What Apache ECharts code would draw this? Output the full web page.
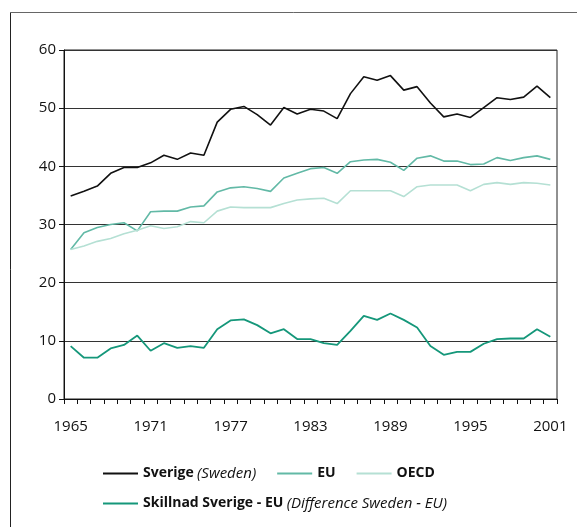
<!DOCTYPE html>
<html><head><meta charset="utf-8">
<script src="https://cdn.jsdelivr.net/npm/echarts@6/dist/echarts.min.js"></script>
<style>html,body{margin:0;padding:0;background:#fff}#c{width:577px;height:527px}</style>
</head><body><div id="c"></div>
<script>
const years = [];
for (let y = 1965; y <= 2001; y++) years.push(String(y));
const yTicks = [0, 10, 20, 30, 40, 50, 60];
const sweden = [34.9,35.7,36.6,38.8,39.8,39.8,40.6,41.9,41.2,42.3,41.9,47.6,49.8,50.3,48.9,47.1,50.1,49.0,49.8,49.5,48.2,52.5,55.4,54.8,55.6,53.1,53.7,50.9,48.5,49.0,48.4,50.1,51.8,51.5,51.9,53.8,51.8];
const eu = [25.7,28.6,29.5,30.0,30.3,28.9,32.2,32.3,32.3,33.0,33.2,35.6,36.3,36.5,36.2,35.7,38.0,38.8,39.6,39.8,38.8,40.8,41.1,41.2,40.7,39.3,41.4,41.8,40.9,40.9,40.3,40.4,41.5,41.0,41.5,41.8,41.2];
const oecd = [25.7,26.3,27.1,27.6,28.4,29.0,29.8,29.3,29.6,30.5,30.3,32.3,33.0,32.9,32.9,32.9,33.6,34.2,34.4,34.5,33.6,35.8,35.8,35.8,35.8,34.8,36.5,36.8,36.8,36.8,35.8,36.9,37.2,36.9,37.2,37.1,36.8];
const diff = [9.1,7.1,7.1,8.7,9.3,10.9,8.3,9.6,8.8,9.1,8.8,12.0,13.5,13.7,12.7,11.3,12.0,10.3,10.3,9.6,9.3,11.7,14.3,13.6,14.7,13.6,12.3,9.1,7.6,8.1,8.1,9.5,10.3,10.4,10.4,12.0,10.7];
const names = ['Sverige', 'EU', 'OECD', 'Skillnad'];

const font = 'Open Sans';
const chart = echarts.init(document.getElementById('c'), null, {renderer: 'canvas'});
const mk = (name, data, color, w) => ({
  name, type: 'line', data, symbol: 'none', smooth: false,
  lineStyle: {color, width: w}, itemStyle: {color}, animation: false
});
const legendRich = {
  b: {fontFamily: font, fontWeight: 'bold', fontSize: 14, color: '#111'},
  i: {fontFamily: font, fontStyle: 'italic', fontSize: 15, color: '#111'}
};
const legendFmt = n => ({
  'Sverige': '{b|Sverige} {i|(Sweden)}',
  'EU': '{b|EU}',
  'OECD': '{b|OECD}',
  'Skillnad': '{b|Skillnad Sverige - EU} {i|(Difference Sweden - EU)}'
}[n]);
chart.setOption({
  animation: false,
  backgroundColor: '#fff',
  grid: {left: 64, right: 20, top: 50, bottom: 128, show: true, borderColor: '#222', borderWidth: 1, backgroundColor: 'transparent'},
  xAxis: {
    type: 'category', data: years, boundaryGap: true,
    axisLine: {lineStyle: {color: '#111', width: 1}},
    axisTick: {show: true, interval: 0, length: 5, lineStyle: {color: '#111'}},
    axisLabel: {interval: 5, margin: 20, fontFamily: font, fontSize: 15, color: '#111'},
    splitLine: {show: false}
  },
  yAxis: {
    type: 'value', min: yTicks[0], max: yTicks[yTicks.length - 1], interval: 10,
    axisLine: {show: true, lineStyle: {color: '#111', width: 1}},
    axisTick: {show: true, length: 5, lineStyle: {color: '#111'}},
    axisLabel: {margin: 8, fontFamily: font, fontSize: 15, color: '#111'},
    splitLine: {show: true, lineStyle: {color: '#333', width: 1}}
  },
  legend: [
    {data: [names[0], names[1], names[2]], left: 98, top: 461, itemWidth: 35, itemHeight: 2, itemGap: 21, icon: 'rect',
     formatter: legendFmt, textStyle: {rich: legendRich}},
    {data: [names[3]], left: 98, top: 491, itemWidth: 35, itemHeight: 2, icon: 'rect',
     formatter: legendFmt, textStyle: {rich: legendRich}}
  ],
  graphic: [
    {type: 'line', shape: {x1: 10.5, y1: 12.5, x2: 577, y2: 12.5}, style: {stroke: '#666', lineWidth: 1}},
    {type: 'line', shape: {x1: 10.5, y1: 12.5, x2: 10.5, y2: 527}, style: {stroke: '#222', lineWidth: 1}}
  ],
  series: [
    mk(names[0], sweden, '#111111', 1.6),
    mk(names[1], eu, '#62b9a6', 1.6),
    mk(names[2], oecd, '#b5e0d4', 1.6),
    mk(names[3], diff, '#15977a', 1.8)
  ]
});
</script></body></html>
